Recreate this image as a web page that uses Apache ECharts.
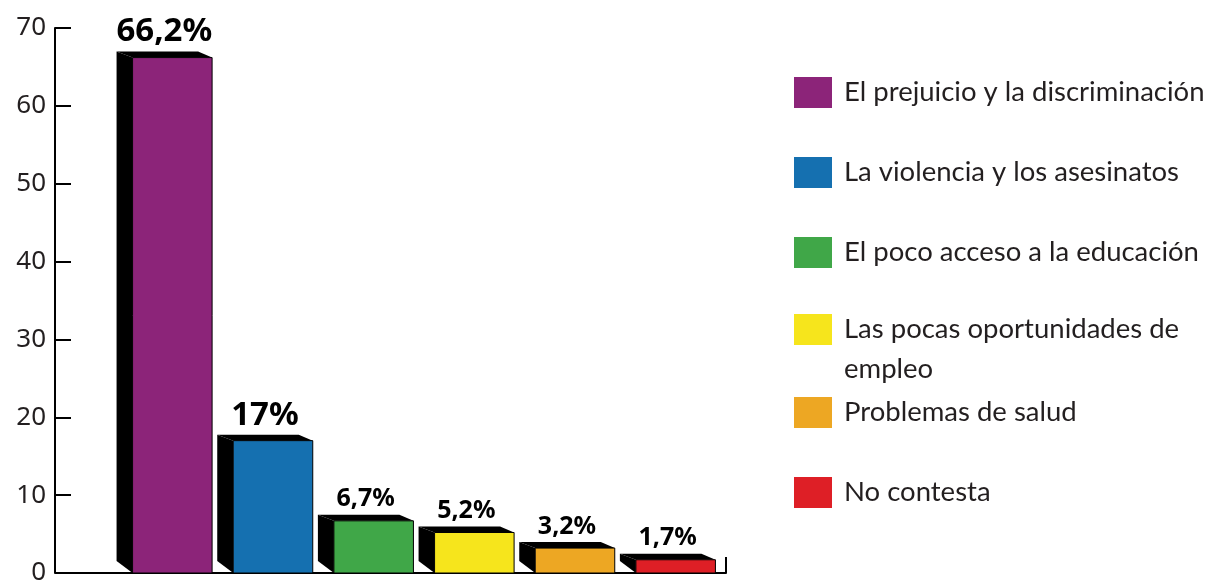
<!DOCTYPE html>
<html>
<head>
<meta charset="utf-8">
<script src="https://cdn.jsdelivr.net/npm/echarts@6/dist/echarts.min.js"></script>
<style>
  html, body { margin: 0; padding: 0; background: #fff; }
  #chart { width: 1231px; height: 582px; }
</style>
</head>
<body>
<div id="chart"></div>
<script>
// datos
var categories = [
  'El prejuicio y la discriminación',
  'La violencia y los asesinatos',
  'El poco acceso a la educación',
  'Las pocas oportunidades de empleo',
  'Problemas de salud',
  'No contesta'
];
var values = [66.2, 17, 6.7, 5.2, 3.2, 1.7];
var colors = ['#8c2479', '#1570b0', '#40a748', '#f6e51c', '#eda723', '#de1f26'];
var yTicks = [0, 10, 20, 30, 40, 50, 60, 70];

var gridLeft = 122, gridRight = 505, gridTop = 28, gridBottom = 9;
var W = 1231, H = 582;

var chart = echarts.init(document.getElementById('chart'));

// barra "3D": cara frontal de color + lado y tapa negros
function renderBar(params, api) {
  var top = api.coord([api.value(0), api.value(1)]);
  var base = api.coord([api.value(0), 0]);
  var bw = api.size([1, 0])[0] * 0.79;
  var x0 = top[0] - bw / 2, x1 = top[0] + bw / 2;
  var y0 = top[1], y1 = base[1];
  var d = 16, h = 6;
  var v = api.value(1);
  var big = v > 10;
  return {
    type: 'group',
    children: [
      { type: 'polygon', shape: { points: [[x0, y1], [x0, y0], [x0 - d, y0 - h], [x0 - d, y1 - h * 2]] },
        style: { fill: '#000' } },
      { type: 'polygon', shape: { points: [[x0, y0], [x0 - d, y0 - h], [x1 - 14, y0 - h], [x1, y0]] },
        style: { fill: '#000' } },
      { type: 'rect', shape: { x: x0, y: y0, width: bw, height: y1 - y0 },
        style: { fill: api.visual('color'), stroke: '#000', lineWidth: 1 } },
      { type: 'text', x: top[0] - 8, y: y0 - h - 3,
        style: { text: String(v).replace('.', ',') + '%', fill: '#000', align: 'center', verticalAlign: 'bottom',
                 font: 'bold ' + (big ? 33 : 25) + 'px "Noto Sans", sans-serif' } }
    ]
  };
}

var series = categories.map(function (name, i) {
  return {
    name: name,
    type: 'custom',
    renderItem: renderBar,
    itemStyle: { color: colors[i] },
    encode: { x: 0, y: 1 },
    data: [[name, values[i]]]
  };
});

var legends = categories.map(function (name, i) {
  var twoLine = name === 'Las pocas oportunidades de empleo';
  return {
    data: [name],
    left: 794,
    top: twoLine ? 269.5 : 72.5 + i * 80,
    padding: 0,
    icon: 'rect',
    itemWidth: 38,
    itemHeight: 31,
    selectedMode: false,
    formatter: function (n) { return twoLine ? '\nLas pocas oportunidades de\nempleo' : n; },
    textStyle: { fontFamily: 'Lato', fontSize: 27.5, color: '#231f20', lineHeight: 40, padding: [0, 0, 0, 7] }
  };
});

var option = {
  animation: false,
  backgroundColor: '#fff',
  grid: { left: gridLeft, right: gridRight, top: gridTop, bottom: gridBottom, outerBoundsMode: 'none' },
  xAxis: {
    type: 'category',
    data: categories,
    axisLine: { lineStyle: { color: '#000', width: 2 } },
    axisTick: { show: false },
    axisLabel: { show: false }
  },
  yAxis: {
    type: 'value',
    min: yTicks[0],
    max: yTicks[yTicks.length - 1],
    interval: 10,
    offset: 67,
    axisLine: { show: true, lineStyle: { color: '#000', width: 2 } },
    axisTick: { show: true, inside: true, length: 16, lineStyle: { color: '#000', width: 2 } },
    axisLabel: { fontFamily: 'Noto Sans', fontSize: 26, color: '#231f20', margin: 9 },
    splitLine: { show: false }
  },
  legend: legends,
  graphic: [
    // tramo del eje x entre el eje y desplazado y la rejilla, y marca final
    { type: 'line', shape: { x1: gridLeft - 67, y1: H - gridBottom, x2: gridLeft + 1, y2: H - gridBottom },
      style: { stroke: '#000', lineWidth: 2 } },
    { type: 'line', shape: { x1: W - gridRight, y1: H - gridBottom - 16, x2: W - gridRight, y2: H - gridBottom },
      style: { stroke: '#000', lineWidth: 2 } }
  ],
  series: series
};

chart.setOption(option);
</script>
</body>
</html>
